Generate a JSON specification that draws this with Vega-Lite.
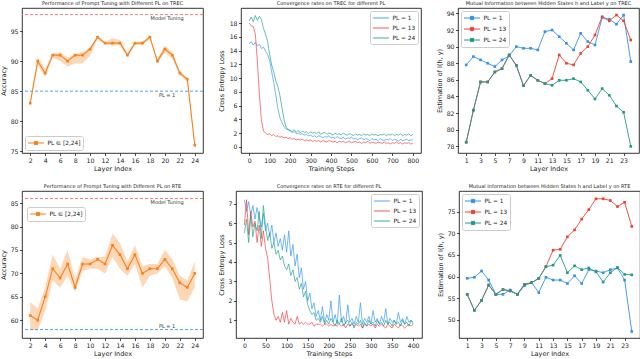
{
"$schema": "https://vega.github.io/schema/vega-lite/v6.json",
"padding": 0,
"background": "white",
"config": {
  "font": "DejaVu Sans",
  "view": {"stroke": "#000000", "strokeWidth": 0.8},
  "axis": {"domain": false, "grid": false, "tickColor": "#000000", "tickSize": 2.5, "tickWidth": 0.7, "labelFontSize": 6.2, "labelColor": "#222222", "labelPadding": 1.5, "labelFlush": false, "labelOverlap": false, "titleFontSize": 6.5, "titleFontWeight": "normal", "titleColor": "#222222", "titlePadding": 2},
  "title": {"fontSize": 5, "fontWeight": "normal", "offset": 2, "color": "#222222"},
  "legend": {"labelFontSize": 5.8, "labelColor": "#222222", "strokeColor": "#cccccc", "fillColor": "white", "padding": 2.5, "cornerRadius": 2, "offset": 3, "rowPadding": 2, "symbolSize": 64, "labelOffset": 11, "symbolStrokeWidth": 1}
},
"datasets": {
  "acc_trec": [
    {"l":2,"m":83,"lo":82.9,"hi":83.1},{"l":3,"m":90,"lo":89.3,"hi":90.7},{"l":4,"m":88,"lo":87.3,"hi":88.7},{"l":5,"m":91,"lo":90.6,"hi":91.3},
    {"l":6,"m":91,"lo":90.0,"hi":91.5},{"l":7,"m":90,"lo":89.1,"hi":90.6},{"l":8,"m":91,"lo":89.6,"hi":91.2},{"l":9,"m":91,"lo":89.6,"hi":91.5},
    {"l":10,"m":92,"lo":90.9,"hi":92.3},{"l":11,"m":94,"lo":93.7,"hi":94.2},{"l":12,"m":93,"lo":92.8,"hi":93.2},{"l":13,"m":93,"lo":92.6,"hi":93.8},
    {"l":14,"m":93,"lo":92.7,"hi":93.5},{"l":15,"m":91,"lo":90.7,"hi":91.3},{"l":16,"m":93,"lo":92.7,"hi":93.2},{"l":17,"m":93,"lo":92.7,"hi":93.3},
    {"l":18,"m":94,"lo":93.7,"hi":94.2},{"l":19,"m":90,"lo":89.7,"hi":90.3},{"l":20,"m":92,"lo":91.4,"hi":92.6},{"l":21,"m":91,"lo":90.4,"hi":91.5},
    {"l":22,"m":88,"lo":87.6,"hi":88.4},{"l":23,"m":87,"lo":86.7,"hi":87.2},{"l":24,"m":76,"lo":75.8,"hi":76.2}
  ],
  "acc_rte": [
    {"l":2,"m":61,"lo":58,"hi":63.9},{"l":3,"m":60,"lo":57.8,"hi":62.5},{"l":4,"m":65,"lo":62,"hi":67},{"l":5,"m":71,"lo":68.5,"hi":74},
    {"l":6,"m":69,"lo":67,"hi":71},{"l":7,"m":72,"lo":69.5,"hi":75},{"l":8,"m":67,"lo":66,"hi":68.8},{"l":9,"m":72,"lo":70.5,"hi":73.5},
    {"l":10,"m":72,"lo":71,"hi":73},{"l":11,"m":73,"lo":71,"hi":73.5},{"l":12,"m":72,"lo":70,"hi":73.5},{"l":13,"m":76,"lo":73.5,"hi":78.5},
    {"l":14,"m":74,"lo":71,"hi":76.5},{"l":15,"m":71,"lo":69.5,"hi":72.5},{"l":16,"m":74,"lo":72,"hi":76},{"l":17,"m":70,"lo":67,"hi":71.5},
    {"l":18,"m":71,"lo":69.5,"hi":72},{"l":19,"m":71,"lo":70,"hi":72},{"l":20,"m":73,"lo":71.5,"hi":75},{"l":21,"m":71,"lo":69,"hi":73},
    {"l":22,"m":68,"lo":64.5,"hi":69.5},{"l":23,"m":67,"lo":64,"hi":68.5},{"l":24,"m":70,"lo":67,"hi":72.5}
  ],
  "ref_trec": [{"name":"Model Tuning","v":97.75},{"name":"PL = 1","v":85}],
  "ref_rte": [{"name":"Model Tuning","v":86},{"name":"PL = 1","v":58}],
  "mi_trec": [
    {"l":1,"PL = 1":87.8,"PL = 13":78.5,"PL = 24":78.5},{"l":2,"PL = 1":88.8,"PL = 13":82.35,"PL = 24":82.35},
    {"l":3,"PL = 1":88.4,"PL = 13":85.75,"PL = 24":85.75},{"l":4,"PL = 1":88.0,"PL = 13":85.75,"PL = 24":85.75},
    {"l":5,"PL = 1":87.6,"PL = 13":86.95,"PL = 24":86.95},{"l":6,"PL = 1":88.4,"PL = 13":87.35,"PL = 24":87.35},
    {"l":7,"PL = 1":88.9,"PL = 13":89.0,"PL = 24":89.0},{"l":8,"PL = 1":90.0,"PL = 13":87.75,"PL = 24":87.75},
    {"l":9,"PL = 1":89.8,"PL = 13":85.3,"PL = 24":85.3},{"l":10,"PL = 1":89.8,"PL = 13":86.55,"PL = 24":86.55},
    {"l":11,"PL = 1":89.6,"PL = 13":85.95,"PL = 24":85.95},{"l":12,"PL = 1":91.8,"PL = 13":85.55,"PL = 24":85.55},
    {"l":13,"PL = 1":92.0,"PL = 13":86.15,"PL = 24":85.35},{"l":14,"PL = 1":91.2,"PL = 13":89.0,"PL = 24":85.95},
    {"l":15,"PL = 1":90.4,"PL = 13":88.0,"PL = 24":85.95},{"l":16,"PL = 1":89.6,"PL = 13":87.8,"PL = 24":86.15},
    {"l":17,"PL = 1":91.6,"PL = 13":89.2,"PL = 24":85.75},{"l":18,"PL = 1":90.6,"PL = 13":90.0,"PL = 24":84.75},
    {"l":19,"PL = 1":90.2,"PL = 13":91.4,"PL = 24":83.7},{"l":20,"PL = 1":93.5,"PL = 13":93.6,"PL = 24":84.95},
    {"l":21,"PL = 1":93.3,"PL = 13":93.1,"PL = 24":84.15},{"l":22,"PL = 1":92.7,"PL = 13":93.8,"PL = 24":82.85},
    {"l":23,"PL = 1":93.8,"PL = 13":93.1,"PL = 24":82.1},{"l":24,"PL = 1":88.2,"PL = 13":90.8,"PL = 24":78.0}
  ],
  "mi_rte": [
    {"l":1,"PL = 1":59.6,"PL = 13":55.9,"PL = 24":55.9},{"l":2,"PL = 1":59.85,"PL = 13":52.2,"PL = 24":52.2},
    {"l":3,"PL = 1":61.3,"PL = 13":54.5,"PL = 24":54.5},{"l":4,"PL = 1":59.2,"PL = 13":58.05,"PL = 24":58.05},
    {"l":5,"PL = 1":55.9,"PL = 13":55.9,"PL = 24":55.9},{"l":6,"PL = 1":55.9,"PL = 13":57.0,"PL = 24":57.0},
    {"l":7,"PL = 1":56.9,"PL = 13":56.7,"PL = 24":56.7},{"l":8,"PL = 1":55.9,"PL = 13":55.9,"PL = 24":55.9},
    {"l":9,"PL = 1":57.9,"PL = 13":58.2,"PL = 24":58.2},{"l":10,"PL = 1":58.6,"PL = 13":58.6,"PL = 24":58.6},
    {"l":11,"PL = 1":56.3,"PL = 13":59.6,"PL = 24":59.6},{"l":12,"PL = 1":59.85,"PL = 13":62.3,"PL = 24":62.3},
    {"l":13,"PL = 1":59.2,"PL = 13":66.1,"PL = 24":62.65},{"l":14,"PL = 1":59.2,"PL = 13":66.3,"PL = 24":64.9},
    {"l":15,"PL = 1":58.4,"PL = 13":69.2,"PL = 24":60.9},{"l":16,"PL = 1":60.2,"PL = 13":70.8,"PL = 24":62.5},
    {"l":17,"PL = 1":58.4,"PL = 13":73.3,"PL = 24":61.6},{"l":18,"PL = 1":61.6,"PL = 13":75.5,"PL = 24":62.0},
    {"l":19,"PL = 1":61.3,"PL = 13":78.0,"PL = 24":61.1},{"l":20,"PL = 1":60.9,"PL = 13":78.0,"PL = 24":58.75},
    {"l":21,"PL = 1":61.6,"PL = 13":77.6,"PL = 24":60.9},{"l":22,"PL = 1":62.0,"PL = 13":76.2,"PL = 24":62.1},
    {"l":23,"PL = 1":59.2,"PL = 13":77.2,"PL = 24":60.5},{"l":24,"PL = 1":47.3,"PL = 13":71.6,"PL = 24":60.4}
  ],
  "loss_trec": [
    {"s":0,"PL = 1":15.0,"PL = 13":18.0,"PL = 24":18.3},{"s":10,"PL = 1":15.3,"PL = 13":17.6,"PL = 24":18.9},
    {"s":20,"PL = 1":14.8,"PL = 13":17.5,"PL = 24":18.2},{"s":30,"PL = 1":15.2,"PL = 13":16.4,"PL = 24":19.1},
    {"s":40,"PL = 1":14.7,"PL = 13":12.5,"PL = 24":18.4},{"s":50,"PL = 1":14.9,"PL = 13":7.6,"PL = 24":19.0},
    {"s":60,"PL = 1":14.3,"PL = 13":3.8,"PL = 24":18.5},{"s":70,"PL = 1":14.5,"PL = 13":2.3,"PL = 24":17.2},
    {"s":80,"PL = 1":13.9,"PL = 13":2.0,"PL = 24":16.4},{"s":90,"PL = 1":13.4,"PL = 13":1.8,"PL = 24":15.3},
    {"s":100,"PL = 1":12.6,"PL = 13":1.9,"PL = 24":13.5},{"s":110,"PL = 1":10.9,"PL = 13":1.6,"PL = 24":11.9},
    {"s":120,"PL = 1":9.4,"PL = 13":1.8,"PL = 24":10.9},{"s":130,"PL = 1":7.6,"PL = 13":1.5,"PL = 24":9.6},
    {"s":140,"PL = 1":5.6,"PL = 13":1.6,"PL = 24":8.8},{"s":150,"PL = 1":4.3,"PL = 13":1.4,"PL = 24":7.5},
    {"s":160,"PL = 1":3.5,"PL = 13":1.5,"PL = 24":5.8},{"s":170,"PL = 1":3.0,"PL = 13":1.3,"PL = 24":4.0},
    {"s":180,"PL = 1":2.6,"PL = 13":1.4,"PL = 24":2.9},{"s":190,"PL = 1":2.5,"PL = 13":1.2,"PL = 24":2.5},
    {"s":200,"PL = 1":2.3,"PL = 13":1.3,"PL = 24":2.4},{"s":210,"PL = 1":2.1,"PL = 13":1.1,"PL = 24":2.2},
    {"s":220,"PL = 1":2.2,"PL = 13":1.2,"PL = 24":2.5},{"s":230,"PL = 1":1.9,"PL = 13":1.0,"PL = 24":2.1},
    {"s":240,"PL = 1":2.0,"PL = 13":1.1,"PL = 24":2.4},{"s":250,"PL = 1":1.8,"PL = 13":1.0,"PL = 24":2.0},
    {"s":260,"PL = 1":1.9,"PL = 13":1.1,"PL = 24":2.3},{"s":270,"PL = 1":1.7,"PL = 13":0.9,"PL = 24":2.1},
    {"s":280,"PL = 1":1.8,"PL = 13":1.0,"PL = 24":2.2},{"s":290,"PL = 1":1.6,"PL = 13":0.9,"PL = 24":1.9},
    {"s":300,"PL = 1":1.7,"PL = 13":1.0,"PL = 24":2.2},{"s":310,"PL = 1":1.5,"PL = 13":0.8,"PL = 24":2.0},
    {"s":320,"PL = 1":1.6,"PL = 13":0.9,"PL = 24":2.1},{"s":330,"PL = 1":1.4,"PL = 13":0.8,"PL = 24":1.9},
    {"s":340,"PL = 1":1.6,"PL = 13":0.9,"PL = 24":2.2},{"s":350,"PL = 1":1.5,"PL = 13":0.7,"PL = 24":1.8},
    {"s":360,"PL = 1":1.3,"PL = 13":0.9,"PL = 24":2.0},{"s":370,"PL = 1":1.5,"PL = 13":0.8,"PL = 24":2.1},
    {"s":380,"PL = 1":1.4,"PL = 13":0.7,"PL = 24":1.8},{"s":390,"PL = 1":1.6,"PL = 13":0.9,"PL = 24":2.0},
    {"s":400,"PL = 1":1.3,"PL = 13":0.8,"PL = 24":1.9},{"s":410,"PL = 1":1.4,"PL = 13":0.7,"PL = 24":1.7},
    {"s":420,"PL = 1":1.2,"PL = 13":0.8,"PL = 24":2.0},{"s":430,"PL = 1":1.5,"PL = 13":0.6,"PL = 24":1.8},
    {"s":440,"PL = 1":1.3,"PL = 13":0.8,"PL = 24":1.9},{"s":450,"PL = 1":1.2,"PL = 13":0.7,"PL = 24":1.7},
    {"s":460,"PL = 1":1.4,"PL = 13":0.8,"PL = 24":2.0},{"s":470,"PL = 1":1.1,"PL = 13":0.6,"PL = 24":1.8},
    {"s":480,"PL = 1":1.3,"PL = 13":0.7,"PL = 24":1.7},{"s":490,"PL = 1":1.2,"PL = 13":0.8,"PL = 24":1.9},
    {"s":500,"PL = 1":1.4,"PL = 13":0.6,"PL = 24":1.8},{"s":510,"PL = 1":1.1,"PL = 13":0.7,"PL = 24":1.6},
    {"s":520,"PL = 1":1.3,"PL = 13":0.8,"PL = 24":1.9},{"s":530,"PL = 1":1.0,"PL = 13":0.6,"PL = 24":1.7},
    {"s":540,"PL = 1":1.2,"PL = 13":0.7,"PL = 24":1.8},{"s":550,"PL = 1":1.3,"PL = 13":0.5,"PL = 24":1.6},
    {"s":560,"PL = 1":1.0,"PL = 13":0.7,"PL = 24":1.9},{"s":570,"PL = 1":1.2,"PL = 13":0.6,"PL = 24":1.7},
    {"s":580,"PL = 1":1.1,"PL = 13":0.8,"PL = 24":1.8},{"s":590,"PL = 1":0.9,"PL = 13":0.5,"PL = 24":1.6},
    {"s":600,"PL = 1":1.2,"PL = 13":0.7,"PL = 24":1.9},{"s":610,"PL = 1":1.0,"PL = 13":0.6,"PL = 24":1.7},
    {"s":620,"PL = 1":1.1,"PL = 13":0.5,"PL = 24":1.8},{"s":630,"PL = 1":0.9,"PL = 13":0.7,"PL = 24":1.6},
    {"s":640,"PL = 1":1.2,"PL = 13":0.6,"PL = 24":1.8},{"s":650,"PL = 1":1.0,"PL = 13":0.5,"PL = 24":1.7},
    {"s":660,"PL = 1":0.9,"PL = 13":0.7,"PL = 24":1.9},{"s":670,"PL = 1":1.1,"PL = 13":0.5,"PL = 24":1.6},
    {"s":680,"PL = 1":1.0,"PL = 13":0.6,"PL = 24":1.8},{"s":690,"PL = 1":1.2,"PL = 13":0.4,"PL = 24":1.7},
    {"s":700,"PL = 1":0.9,"PL = 13":0.6,"PL = 24":1.9},{"s":710,"PL = 1":1.1,"PL = 13":0.5,"PL = 24":1.6},
    {"s":720,"PL = 1":1.0,"PL = 13":0.7,"PL = 24":1.8},{"s":730,"PL = 1":0.8,"PL = 13":0.5,"PL = 24":1.7},
    {"s":740,"PL = 1":1.1,"PL = 13":0.6,"PL = 24":1.9},{"s":750,"PL = 1":0.9,"PL = 13":0.4,"PL = 24":1.6},
    {"s":760,"PL = 1":1.0,"PL = 13":0.6,"PL = 24":1.8},{"s":770,"PL = 1":1.1,"PL = 13":0.5,"PL = 24":1.7},
    {"s":780,"PL = 1":0.9,"PL = 13":0.6,"PL = 24":1.9},{"s":790,"PL = 1":1.0,"PL = 13":0.4,"PL = 24":1.6},
    {"s":800,"PL = 1":1.0,"PL = 13":0.5,"PL = 24":1.8}
  ],
  "loss_rte": [
    {"s":0,"PL = 1":7.2,"PL = 13":5.9,"PL = 24":5.5},{"s":5,"PL = 1":6.6,"PL = 13":7.2,"PL = 24":6.2},
    {"s":10,"PL = 1":7.1,"PL = 13":5.4,"PL = 24":5.0},{"s":15,"PL = 1":6.4,"PL = 13":6.6,"PL = 24":6.4},
    {"s":20,"PL = 1":6.9,"PL = 13":5.8,"PL = 24":5.3},{"s":25,"PL = 1":6.2,"PL = 13":6.1,"PL = 24":6.0},
    {"s":30,"PL = 1":6.8,"PL = 13":5.0,"PL = 24":5.6},{"s":35,"PL = 1":6.3,"PL = 13":5.9,"PL = 24":6.6},
    {"s":40,"PL = 1":5.8,"PL = 13":4.8,"PL = 24":5.2},{"s":45,"PL = 1":6.5,"PL = 13":5.6,"PL = 24":6.9},
    {"s":50,"PL = 1":5.6,"PL = 13":4.7,"PL = 24":5.8},{"s":55,"PL = 1":6.0,"PL = 13":4.2,"PL = 24":5.1},
    {"s":60,"PL = 1":5.3,"PL = 13":3.1,"PL = 24":5.5},{"s":65,"PL = 1":5.9,"PL = 13":2.0,"PL = 24":4.7},
    {"s":70,"PL = 1":5.0,"PL = 13":1.3,"PL = 24":5.0},{"s":75,"PL = 1":5.5,"PL = 13":1.0,"PL = 24":4.4},
    {"s":80,"PL = 1":4.8,"PL = 13":1.2,"PL = 24":4.6},{"s":85,"PL = 1":5.2,"PL = 13":0.9,"PL = 24":4.1},
    {"s":90,"PL = 1":4.6,"PL = 13":1.4,"PL = 24":4.3},{"s":95,"PL = 1":5.4,"PL = 13":0.9,"PL = 24":3.8},
    {"s":100,"PL = 1":4.5,"PL = 13":1.5,"PL = 24":3.6},{"s":105,"PL = 1":5.6,"PL = 13":0.8,"PL = 24":3.9},
    {"s":110,"PL = 1":4.3,"PL = 13":1.1,"PL = 24":3.3},{"s":115,"PL = 1":4.9,"PL = 13":0.9,"PL = 24":3.6},
    {"s":120,"PL = 1":3.8,"PL = 13":0.8,"PL = 24":3.0},{"s":125,"PL = 1":4.4,"PL = 13":1.2,"PL = 24":3.2},
    {"s":130,"PL = 1":3.2,"PL = 13":0.8,"PL = 24":2.6},{"s":135,"PL = 1":3.7,"PL = 13":0.9,"PL = 24":2.9},
    {"s":140,"PL = 1":2.6,"PL = 13":0.8,"PL = 24":2.2},{"s":145,"PL = 1":3.0,"PL = 13":0.9,"PL = 24":2.5},
    {"s":150,"PL = 1":2.0,"PL = 13":0.8,"PL = 24":1.8},{"s":155,"PL = 1":2.4,"PL = 13":0.8,"PL = 24":1.5},
    {"s":160,"PL = 1":1.6,"PL = 13":0.9,"PL = 24":1.3},{"s":165,"PL = 1":1.9,"PL = 13":0.7,"PL = 24":1.4},
    {"s":170,"PL = 1":1.2,"PL = 13":0.8,"PL = 24":1.0},{"s":175,"PL = 1":1.5,"PL = 13":0.8,"PL = 24":1.1},
    {"s":180,"PL = 1":1.0,"PL = 13":0.8,"PL = 24":0.9},{"s":185,"PL = 1":1.7,"PL = 13":0.7,"PL = 24":1.2},
    {"s":190,"PL = 1":0.9,"PL = 13":0.8,"PL = 24":0.8},{"s":195,"PL = 1":1.3,"PL = 13":0.8,"PL = 24":1.0},
    {"s":200,"PL = 1":1.0,"PL = 13":0.7,"PL = 24":0.8},{"s":205,"PL = 1":2.0,"PL = 13":0.8,"PL = 24":1.1},
    {"s":210,"PL = 1":0.9,"PL = 13":0.7,"PL = 24":0.9},{"s":215,"PL = 1":1.3,"PL = 13":0.8,"PL = 24":0.7},
    {"s":220,"PL = 1":0.8,"PL = 13":0.7,"PL = 24":1.0},{"s":225,"PL = 1":2.3,"PL = 13":0.8,"PL = 24":0.8},
    {"s":230,"PL = 1":0.9,"PL = 13":0.7,"PL = 24":1.1},{"s":235,"PL = 1":1.2,"PL = 13":0.8,"PL = 24":0.7},
    {"s":240,"PL = 1":0.8,"PL = 13":0.6,"PL = 24":0.9},{"s":245,"PL = 1":1.8,"PL = 13":0.8,"PL = 24":1.0},
    {"s":250,"PL = 1":0.9,"PL = 13":0.7,"PL = 24":0.7},{"s":255,"PL = 1":1.1,"PL = 13":0.8,"PL = 24":0.9},
    {"s":260,"PL = 1":0.8,"PL = 13":0.7,"PL = 24":0.6},{"s":265,"PL = 1":1.2,"PL = 13":0.8,"PL = 24":0.9},
    {"s":270,"PL = 1":0.9,"PL = 13":0.7,"PL = 24":0.8},{"s":275,"PL = 1":1.9,"PL = 13":0.8,"PL = 24":1.0},
    {"s":280,"PL = 1":0.8,"PL = 13":0.6,"PL = 24":0.6},{"s":285,"PL = 1":1.1,"PL = 13":0.8,"PL = 24":0.9},
    {"s":290,"PL = 1":0.9,"PL = 13":0.7,"PL = 24":0.7},{"s":295,"PL = 1":1.2,"PL = 13":0.8,"PL = 24":1.0},
    {"s":300,"PL = 1":0.8,"PL = 13":0.7,"PL = 24":0.8},{"s":305,"PL = 1":1.5,"PL = 13":0.8,"PL = 24":0.9},
    {"s":310,"PL = 1":0.9,"PL = 13":0.6,"PL = 24":0.7},{"s":315,"PL = 1":1.1,"PL = 13":0.8,"PL = 24":1.0},
    {"s":320,"PL = 1":0.8,"PL = 13":0.7,"PL = 24":0.8},{"s":325,"PL = 1":1.2,"PL = 13":0.8,"PL = 24":0.9},
    {"s":330,"PL = 1":0.9,"PL = 13":0.7,"PL = 24":0.7},{"s":335,"PL = 1":1.6,"PL = 13":0.6,"PL = 24":1.0},
    {"s":340,"PL = 1":0.8,"PL = 13":0.8,"PL = 24":0.8},{"s":345,"PL = 1":1.1,"PL = 13":0.7,"PL = 24":0.9},
    {"s":350,"PL = 1":0.9,"PL = 13":0.6,"PL = 24":0.7},{"s":355,"PL = 1":1.0,"PL = 13":0.8,"PL = 24":1.0},
    {"s":360,"PL = 1":0.8,"PL = 13":0.7,"PL = 24":0.8},{"s":365,"PL = 1":1.4,"PL = 13":0.6,"PL = 24":0.9},
    {"s":370,"PL = 1":0.9,"PL = 13":0.8,"PL = 24":0.7},{"s":375,"PL = 1":1.1,"PL = 13":0.7,"PL = 24":1.0},
    {"s":380,"PL = 1":0.8,"PL = 13":0.6,"PL = 24":0.8},{"s":385,"PL = 1":1.2,"PL = 13":0.7,"PL = 24":0.9},
    {"s":390,"PL = 1":0.9,"PL = 13":0.8,"PL = 24":0.7},{"s":395,"PL = 1":1.0,"PL = 13":0.7,"PL = 24":1.0},
    {"s":400,"PL = 1":0.8,"PL = 13":0.8,"PL = 24":0.9}
  ]
},
"spacing": 10,
"resolve": {"scale": {"color": "independent", "stroke": "independent"}},
"vconcat": [
 {
  "spacing": 14,
  "resolve": {"scale": {"color": "independent", "stroke": "independent"}},
  "hconcat": [
   {
    "width": 181, "height": 145,
    "title": "Performance of Prompt Tuning with Different PL on TREC",
    "layer": [
     {"data": {"name": "acc_trec"}, "mark": {"type": "area", "color": "#fdd3ae", "opacity": 0.9},
      "encoding": {
       "x": {"field": "l", "type": "quantitative", "scale": {"domain": [0.9, 25.1], "nice": false, "zero": false}, "axis": {"values": [2,4,6,8,10,12,14,16,18,20,22,24], "title": "Layer Index", "labelOverlap": false}},
       "y": {"field": "lo", "type": "quantitative", "scale": {"domain": [74.7, 98.85], "nice": false, "zero": false}, "axis": {"values": [75,80,85,90,95], "title": "Accuracy", "labelOverlap": false, "minExtent": 13.5, "maxExtent": 13.5}},
       "y2": {"field": "hi"}}},
     {"data": {"name": "ref_trec"}, "mark": {"type": "rule", "strokeDash": [3, 2], "strokeWidth": 0.9},
      "encoding": {"y": {"field": "v", "type": "quantitative", "axis": {"values": [75,80,85,90,95], "title": "Accuracy", "labelOverlap": false, "minExtent": 13.5, "maxExtent": 13.5}}, "stroke": {"field": "name", "type": "nominal", "scale": {"domain": ["Model Tuning", "PL = 1"], "range": ["#f76b6b", "#3a9ae8"]}, "legend": null}}},
     {"data": {"name": "ref_trec"}, "mark": {"type": "text", "fontSize": 5, "baseline": "top", "dy": 1.5, "color": "#333333"},
      "encoding": {"x": {"datum": 20.3, "axis": {"values": [2,4,6,8,10,12,14,16,18,20,22,24], "title": "Layer Index", "labelOverlap": false}}, "y": {"field": "v", "type": "quantitative", "axis": {"values": [75,80,85,90,95], "title": "Accuracy", "labelOverlap": false, "minExtent": 13.5, "maxExtent": 13.5}}, "text": {"field": "name"}}},
     {"data": {"name": "acc_trec"}, "mark": {"type": "line", "strokeWidth": 1.1, "point": {"filled": true, "size": 7, "shape": "square"}},
      "encoding": {
       "x": {"field": "l", "type": "quantitative", "axis": {"values": [2,4,6,8,10,12,14,16,18,20,22,24], "title": "Layer Index", "labelOverlap": false}},
       "y": {"field": "m", "type": "quantitative", "axis": {"values": [75,80,85,90,95], "title": "Accuracy", "labelOverlap": false, "minExtent": 13.5, "maxExtent": 13.5}},
       "color": {"datum": "PL ∈ [2,24]", "type": "nominal", "scale": {"range": ["#f5821f"]}, "legend": {"title": null, "orient": "bottom-left", "symbolType": "M-1,0H3M0.6,-0.4H1.4V0.4H0.6Z"}}}}
    ]
   },
   {
    "width": 180, "height": 145,
    "title": "Convergence rates on TREC for different PL",
    "data": {"name": "loss_trec"},
    "transform": [{"fold": ["PL = 1", "PL = 13", "PL = 24"], "as": ["pl", "v"]}],
    "mark": {"type": "line", "strokeWidth": 0.8, "opacity": 0.85},
    "encoding": {
     "x": {"field": "s", "type": "quantitative", "scale": {"domain": [-40, 840], "nice": false, "zero": false}, "axis": {"values": [0,100,200,300,400,500,600,700,800], "title": "Training Steps"}},
     "y": {"field": "v", "type": "quantitative", "scale": {"domain": [-0.9, 20.2], "nice": false, "zero": false}, "axis": {"values": [0,2,4,6,8,10,12,14,16,18], "title": "Cross Entropy Loss", "minExtent": 14.5, "maxExtent": 14.5}},
     "color": {"field": "pl", "type": "nominal", "scale": {"domain": ["PL = 1", "PL = 13", "PL = 24"], "range": ["#2f96f5", "#f53b3b", "#1f9e89"]}, "legend": {"title": null, "orient": "top-right", "symbolType": "M-1,0H3"}}
    }
   },
   {
    "width": 181, "height": 145,
    "title": "Mutual Information between Hidden States h and Label y on TREC",
    "data": {"name": "mi_trec"},
    "transform": [{"fold": ["PL = 1", "PL = 13", "PL = 24"], "as": ["pl", "v"]}],
    "mark": {"type": "line", "strokeWidth": 0.9, "point": {"filled": true, "size": 7, "shape": "square"}},
    "encoding": {
     "x": {"field": "l", "type": "quantitative", "scale": {"domain": [-0.15, 25.15], "nice": false, "zero": false}, "axis": {"values": [1,3,5,7,9,11,13,15,17,19,21,23], "title": "Layer Index"}},
     "y": {"field": "v", "type": "quantitative", "scale": {"domain": [77.2, 94.65], "nice": false, "zero": false}, "axis": {"values": [78,80,82,84,86,88,90,92,94], "title": "Estimation of I(h, y)", "minExtent": 13.5, "maxExtent": 13.5}},
     "color": {"field": "pl", "type": "nominal", "scale": {"domain": ["PL = 1", "PL = 13", "PL = 24"], "range": ["#3592e6", "#ec4336", "#239a87"]}, "legend": {"title": null, "orient": "top-left", "symbolType": "M-1,0H3M0.6,-0.4H1.4V0.4H0.6Z"}}
    }
   }
  ]
 },
 {
  "spacing": 14,
  "resolve": {"scale": {"color": "independent", "stroke": "independent"}},
  "hconcat": [
   {
    "width": 181, "height": 147,
    "title": "Performance of Prompt Tuning with Different PL on RTE",
    "layer": [
     {"data": {"name": "acc_rte"}, "mark": {"type": "area", "color": "#fdd3ae", "opacity": 0.9},
      "encoding": {
       "x": {"field": "l", "type": "quantitative", "scale": {"domain": [0.9, 25.1], "nice": false, "zero": false}, "axis": {"values": [2,4,6,8,10,12,14,16,18,20,22,24], "title": "Layer Index", "labelOverlap": false}},
       "y": {"field": "lo", "type": "quantitative", "scale": {"domain": [56.2, 87.6], "nice": false, "zero": false}, "axis": {"values": [60,65,70,75,80,85], "title": "Accuracy", "labelOverlap": false, "minExtent": 13.5, "maxExtent": 13.5}},
       "y2": {"field": "hi"}}},
     {"data": {"name": "ref_rte"}, "mark": {"type": "rule", "strokeDash": [3, 2], "strokeWidth": 0.9},
      "encoding": {"y": {"field": "v", "type": "quantitative", "axis": {"values": [60,65,70,75,80,85], "title": "Accuracy", "labelOverlap": false, "minExtent": 13.5, "maxExtent": 13.5}}, "stroke": {"field": "name", "type": "nominal", "scale": {"domain": ["Model Tuning", "PL = 1"], "range": ["#f76b6b", "#3a9ae8"]}, "legend": null}}},
     {"data": {"name": "ref_rte"}, "transform": [{"filter": "datum.name == 'Model Tuning'"}], "mark": {"type": "text", "fontSize": 5, "baseline": "top", "dy": 1.5, "color": "#333333"},
      "encoding": {"x": {"datum": 20.3, "axis": {"values": [2,4,6,8,10,12,14,16,18,20,22,24], "title": "Layer Index", "labelOverlap": false}}, "y": {"field": "v", "type": "quantitative", "axis": {"values": [60,65,70,75,80,85], "title": "Accuracy", "labelOverlap": false, "minExtent": 13.5, "maxExtent": 13.5}}, "text": {"field": "name"}}},
     {"data": {"name": "ref_rte"}, "transform": [{"filter": "datum.name == 'PL = 1'"}], "mark": {"type": "text", "fontSize": 5, "baseline": "bottom", "dy": -1, "color": "#333333"},
      "encoding": {"x": {"datum": 20.3, "axis": {"values": [2,4,6,8,10,12,14,16,18,20,22,24], "title": "Layer Index", "labelOverlap": false}}, "y": {"field": "v", "type": "quantitative", "axis": {"values": [60,65,70,75,80,85], "title": "Accuracy", "labelOverlap": false, "minExtent": 13.5, "maxExtent": 13.5}}, "text": {"field": "name"}}},
     {"data": {"name": "acc_rte"}, "mark": {"type": "line", "strokeWidth": 1.1, "point": {"filled": true, "size": 7, "shape": "square"}},
      "encoding": {
       "x": {"field": "l", "type": "quantitative", "axis": {"values": [2,4,6,8,10,12,14,16,18,20,22,24], "title": "Layer Index", "labelOverlap": false}},
       "y": {"field": "m", "type": "quantitative", "axis": {"values": [60,65,70,75,80,85], "title": "Accuracy", "labelOverlap": false, "minExtent": 13.5, "maxExtent": 13.5}},
       "color": {"datum": "PL ∈ [2,24]", "type": "nominal", "scale": {"range": ["#f5821f"]}, "legend": {"title": null, "orient": "none", "legendX": 5, "legendY": 16, "symbolType": "M-1,0H3M0.6,-0.4H1.4V0.4H0.6Z"}}}}
    ]
   },
   {
    "width": 186, "height": 147,
    "title": "Convergence rates on RTE for different PL",
    "data": {"name": "loss_rte"},
    "transform": [{"fold": ["PL = 1", "PL = 13", "PL = 24"], "as": ["pl", "v"]}],
    "mark": {"type": "line", "strokeWidth": 0.8, "opacity": 0.85},
    "encoding": {
     "x": {"field": "s", "type": "quantitative", "scale": {"domain": [-20, 421], "nice": false, "zero": false}, "axis": {"values": [0,50,100,150,200,250,300,350,400], "title": "Training Steps"}},
     "y": {"field": "v", "type": "quantitative", "scale": {"domain": [0.09, 7.65], "nice": false, "zero": false}, "axis": {"values": [1,2,3,4,5,6,7], "title": "Cross Entropy Loss", "minExtent": 9.5, "maxExtent": 9.5}},
     "color": {"field": "pl", "type": "nominal", "scale": {"domain": ["PL = 1", "PL = 13", "PL = 24"], "range": ["#2f96f5", "#f53b3b", "#1f9e89"]}, "legend": {"title": null, "orient": "top-right", "symbolType": "M-1,0H3"}}
    }
   },
   {
    "width": 181, "height": 147,
    "title": "Mutual Information between Hidden States h and Label y on RTE",
    "data": {"name": "mi_rte"},
    "transform": [{"fold": ["PL = 1", "PL = 13", "PL = 24"], "as": ["pl", "v"]}],
    "mark": {"type": "line", "strokeWidth": 0.9, "point": {"filled": true, "size": 7, "shape": "square"}},
    "encoding": {
     "x": {"field": "l", "type": "quantitative", "scale": {"domain": [-0.15, 25.15], "nice": false, "zero": false}, "axis": {"values": [1,3,5,7,9,11,13,15,17,19,21,23], "title": "Layer Index"}},
     "y": {"field": "v", "type": "quantitative", "scale": {"domain": [45.8, 79.8], "nice": false, "zero": false}, "axis": {"values": [50,55,60,65,70,75], "title": "Estimation of I(h, y)", "minExtent": 13.5, "maxExtent": 13.5}},
     "color": {"field": "pl", "type": "nominal", "scale": {"domain": ["PL = 1", "PL = 13", "PL = 24"], "range": ["#3592e6", "#ec4336", "#239a87"]}, "legend": {"title": null, "orient": "top-left", "symbolType": "M-1,0H3M0.6,-0.4H1.4V0.4H0.6Z"}}
    }
   }
  ]
 }
]
}
